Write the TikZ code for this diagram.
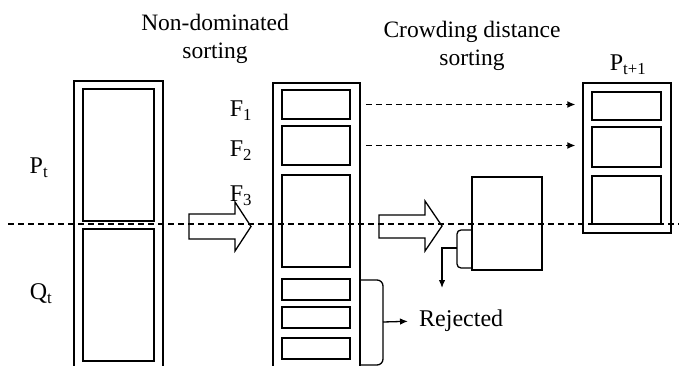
\documentclass[tikz,border=0pt]{standalone}
\usepackage{fontspec}
\setmainfont{Liberation Serif}
\usetikzlibrary{arrows.meta,calc,fit}
\tikzset{
  outerbox/.style={draw, line width=1.3pt, inner sep=0pt},
  innerbox/.style={draw, line width=1.8pt, inner sep=0pt},
  lbl/.style={font=\fontsize{24}{28}\selectfont, inner sep=0pt},
  ttl/.style={font=\fontsize{23.5}{28}\selectfont, align=center, inner sep=0pt},
  hollow/.style={draw, line width=1.3pt},
  dasharr/.style={line width=1.4pt, dash pattern=on 6pt off 4pt, -{Latex[length=8pt,width=7pt]}},
  solidarr/.style={line width=1.3pt, -{Latex[length=8pt,width=6.5pt]}},
}
\begin{document}
\begin{tikzpicture}[x=1pt,y=-1pt]
\useasboundingbox[fill=white] (0,0) rectangle (679,366);
% dashed separation line
\draw[line width=1.2pt, dash pattern=on 6pt off 4pt] (8,224) coordinate (dl) -- (679,224) coordinate (dr);
% left column
\node[outerbox, fit={(74,81) (163,372)}] (lout) {};
\node[innerbox, fit={(83,89) (154,221)}] (pt) {};
\node[innerbox, fit={(83,229) (154,361)}] (qt) {};
\node[lbl] (ptl) at (39,168) {P\textsubscript{t}};
\node[lbl] (qtl) at (41,294) {Q\textsubscript{t}};
% titles
\node[ttl] (t1) at (215,39) {Non-dominated\\sorting};
\node[ttl] (t2) at (472,46) {Crowding distance\\sorting};
% middle column
\node[outerbox, fit={(273,83) (360,372)}] (mout) {};
\node[innerbox, fit={(282,90) (350,119)}] (f1) {};
\node[innerbox, fit={(282,126) (350,165)}] (f2) {};
\node[innerbox, fit={(282,175) (350,267)}] (f3) {};
\node[innerbox, fit={(282,279) (350,300)}] (r1) {};
\node[innerbox, fit={(282,307) (350,328)}] (r2) {};
\node[innerbox, fit={(282,338) (350,359)}] (r3) {};
\node[lbl] (f1l) at (241,111) {F\textsubscript{1}};
\node[lbl] (f2l) at (241,151) {F\textsubscript{2}};
\node[lbl] (f3l) at (241,196) {F\textsubscript{3}};
% hollow arrows
\draw[hollow] (189,214) -- (235,214) -- (235,202) -- (251,226.5) -- (235,251) -- (235,239) -- (189,239) -- cycle;
\draw[hollow] (379,215) -- (425,215) -- (425,201) -- (442,226) -- (425,251) -- (425,238) -- (379,238) -- cycle;
% crowding box
\node[innerbox, line width=1.5pt, fit={(472,177) (542,270)}] (cb) {};
% right column
\node[outerbox, fit={(583,83) (671,233)}] (rout) {};
\node[innerbox, fit={(592,92) (661,120)}] (p1) {};
\node[innerbox, fit={(592,127) (661,167)}] (p2) {};
\node[innerbox, fit={(592,176) (661,224)}] (p3) {};
\node[lbl] (ptp) at (628,65) {P\textsubscript{t+1}};
% dashed transfer arrows
\draw[dasharr, shorten <=15pt, shorten >=7pt] (f1.east) -- (f1.east -| rout.west);
\draw[dasharr, shorten <=15pt, shorten >=7pt] (f2.east) -- (f2.east -| rout.west);
% bracket on crowding box
\draw[line width=1.3pt, rounded corners=4pt] (472,230) -- (457,230) -- (457,268) -- (472,268);
\coordinate (bm) at (457,248);
\coordinate (bd) at (442,288);
\draw[solidarr] (bm) -- (442,248) -- (bd);
% rejected bracket
\draw[line width=1.3pt, rounded corners=6pt] (360,280) -- (383,280) -- (383,365) -- (360,365);
\node[lbl, anchor=west] (rej) at (419,321) {Rejected};
\draw[solidarr, shorten >=11pt] (383,322) -- (rej.west);
\end{tikzpicture}
\end{document}
